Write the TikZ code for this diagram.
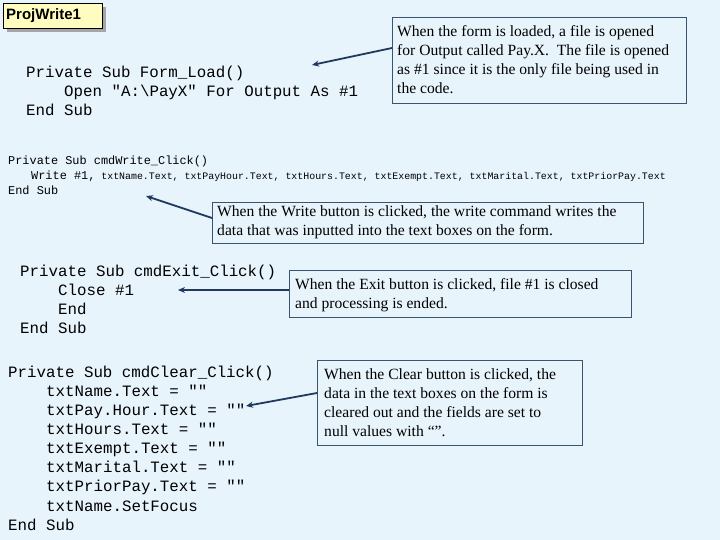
\documentclass[tikz,border=0pt]{standalone}
\usetikzlibrary{arrows.meta}
\usepackage{fontspec}
\setmainfont{Liberation Serif}
\newfontfamily\cour{Liberation Mono}
\newfontfamily\ari{Liberation Sans}
\definecolor{bg}{HTML}{E8F4FC}
\definecolor{bord}{HTML}{3A5470}
\definecolor{arr}{HTML}{1F3A5C}
\begin{document}
\begin{tikzpicture}[x=1pt,y=-1pt,
 box/.style={draw=bord,line width=0.8pt,fill=bg,anchor=north west,inner sep=0pt},
 ct/.style={anchor=base west,inner sep=0pt,font=\fontsize{15.6}{19}\selectfont},
 big/.style={anchor=base west,inner sep=0pt,font=\cour\fontsize{15.8}{19}\selectfont},
 sm/.style={anchor=base west,inner sep=0pt,font=\cour\fontsize{11.9}{15}\selectfont},
 ar/.style={draw=arr,line width=1.8pt,-{Stealth[length=7pt,width=6pt]}}]
\useasboundingbox (0,0) rectangle (720,540);
\fill[bg] (0,0) rectangle (720,540);
% title
\fill[gray!70] (7,7) rectangle (106,32);
\node[box,draw=black,fill=yellow!25,minimum width=99,minimum height=25] (t) at (3,3) {};
\node[anchor=west,font=\ari\bfseries\fontsize{15}{18}\selectfont,inner sep=0pt] (tt) at (6,15.5) {ProjWrite1};
% block 1
\node[big] (a1) at (26,78) {Private Sub Form\_Load()};
\node[big] (a2) at (64,97) {Open "A:\textbackslash PayX" For Output As \#1};
\node[big] (a3) at (26,116) {End Sub};
% block 2
\node[sm] (b1) at (8,165) {Private Sub cmdWrite\_Click()};
\node[sm] (b2) at (31,180) {Write \#1,\fontsize{9.9}{12}\selectfont\ txtName.Text, txtPayHour.Text, txtHours.Text, txtExempt.Text, txtMarital.Text, txtPriorPay.Text};
\node[sm] (b3) at (8,195) {End Sub};
% block 3
\node[big] (c1) at (20,276) {Private Sub cmdExit\_Click()};
\node[big] (c2) at (58,295) {Close \#1};
\node[big] (c3) at (58,314) {End};
\node[big] (c4) at (20,333) {End Sub};
% block 4
\foreach \n/\x/\y/\s in {1/8/377/Private Sub cmdClear\_Click(),2/46/396/txtName.Text = "",3/46/415/txtPay.Hour.Text = "",4/46/434/txtHours.Text = "",5/46/453/txtExempt.Text = "",6/46/472/txtMarital.Text = "",7/46/491/txtPriorPay.Text = "",8/46/511/txtName.SetFocus,9/8/530/End Sub}
  \node[big] (d\n) at (\x,\y) {\s};
% callouts
\node[box,minimum width=294,minimum height=86] (k1) at (392,17) {};
\node[ct] (k1t) at (397,37) {\begin{tabular}[t]{@{}l@{}}When the form is loaded, a file is opened\\for Output called Pay.X.\ \ The file is opened\\as \#1 since it is the only file being used in\\the code.\end{tabular}};
\node[box,minimum width=431,minimum height=41] (k2) at (212,202) {};
\node[ct] (k2t) at (217,217) {\begin{tabular}[t]{@{}l@{}}When the Write button is clicked, the write command writes the\\data that was inputted into the text boxes on the form.\end{tabular}};
\node[box,minimum width=342,minimum height=47] (k3) at (289,270) {};
\node[ct] (k3t) at (295,289) {\begin{tabular}[t]{@{}l@{}}When the Exit button is clicked, file \#1 is closed\\and processing is ended.\end{tabular}};
\node[box,minimum width=265,minimum height=85] (k4) at (317,360) {};
\node[ct] (k4t) at (324,379) {\begin{tabular}[t]{@{}l@{}}When the Clear button is clicked, the\\data in the text boxes on the form is\\cleared out and the fields are set to\\null values with ``''.\end{tabular}};
\coordinate (e1) at (312,65);
\coordinate (e2) at (146,196);
\coordinate (e3) at (178,290);
\coordinate (e4) at (246,406);
\draw[ar] ([yshift=-31pt]k1.north west) -- (e1);
\draw[ar] ([yshift=-16pt]k2.north west) -- (e2);
\draw[ar] ([yshift=-20pt]k3.north west) -- (e3);
\draw[ar] ([yshift=-33pt]k4.north west) -- (e4);
\end{tikzpicture}
\end{document}
